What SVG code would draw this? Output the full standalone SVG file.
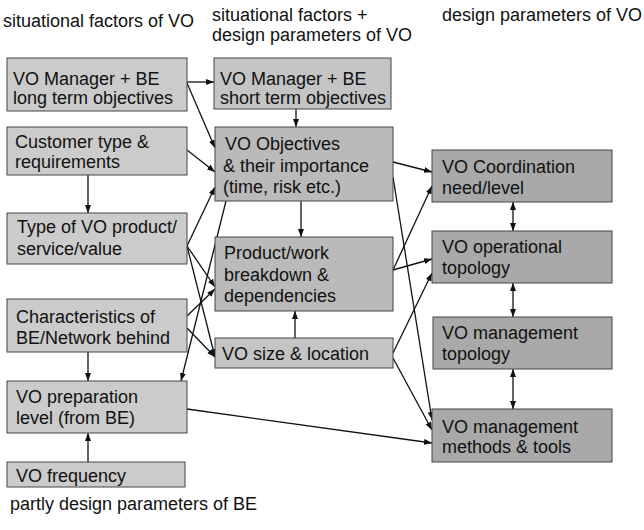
<svg xmlns="http://www.w3.org/2000/svg" width="644" height="530" viewBox="0 0 644 530">
<defs>
<style>
text{font-family:"Liberation Sans",Arial,sans-serif;font-size:18px;fill:#111}
.box{stroke:#444;stroke-width:1}
.l{fill:#cbcbcb}
.m{fill:#c4c4c4}
.d{fill:#bababa}
.r{fill:#a9a9a9}
.e{stroke:#111;stroke-width:1.3;fill:none;marker-end:url(#ah)}
.b{marker-start:url(#ah)}
</style>
<marker id="ah" viewBox="0 0 8 6" refX="8" refY="3" markerWidth="8" markerHeight="6" markerUnits="userSpaceOnUse" orient="auto-start-reverse">
<path d="M0,0L8,3L0,6z" fill="#111"/>
</marker>
</defs>
<rect width="644" height="530" fill="#fff"/>
<g id="headers">
<text x="3" y="27">situational factors of VO</text>
<text x="212" y="21">situational factors +</text>
<text x="212" y="41">design parameters of VO</text>
<text x="442" y="21">design parameters of VO</text>
<text x="10" y="510">partly design parameters of BE</text>
</g>
<g id="connectors">
<path class="e" d="M187,82L214,82"/>
<path class="e" d="M187,83L215,148"/>
<path class="e" d="M296,109L296,127"/>
<path class="e" d="M187,150L215,172"/>
<path class="e" d="M88,175L88,213"/>
<path class="e" d="M187,246L215,187"/>
<path class="e" d="M226,201L181,381"/>
<path class="e" d="M187,246L215,287"/>
<path class="e" d="M187,246L215,357"/>
<path class="e" d="M187,316L215,289"/>
<path class="e" d="M187,328L215,357"/>
<path class="e" d="M301,201L301,237"/>
<path class="e" d="M295,338L295,311"/>
<path class="e" d="M88,352L88,381"/>
<path class="e" d="M88,462L88,433"/>
<path class="e" d="M187,409L432,443"/>
<path class="e" d="M393,162L432,172"/>
<path class="e" d="M393,177L432,420"/>
<path class="e" d="M393,270L432,186"/>
<path class="e" d="M393,270L432,259"/>
<path class="e" d="M393,353L432,273"/>
<path class="e" d="M393,358L432,430"/>
<path class="e b" d="M513,202L513,231"/>
<path class="e b" d="M513,283L513,317"/>
<path class="e b" d="M513,369L513,409"/>
</g>
<g id="b1"><rect class="box l" x="7" y="58" width="180" height="53"/><text x="13" y="85">VO Manager + BE</text><text x="13" y="104">long term objectives</text></g>
<g id="b2"><rect class="box l" x="7" y="127" width="180" height="48"/><text x="15" y="148">Customer type &amp;</text><text x="15" y="168">requirements</text></g>
<g id="b3"><rect class="box l" x="7" y="213" width="180" height="51"/><text x="17" y="233">Type of VO product/</text><text x="17" y="255">service/value</text></g>
<g id="b4"><rect class="box l" x="7" y="299" width="180" height="53"/><text x="16" y="323">Characteristics of</text><text x="16" y="344">BE/Network behind</text></g>
<g id="b5"><rect class="box l" x="7" y="381" width="180" height="52"/><text x="16" y="403">VO preparation</text><text x="16" y="424">level (from BE)</text></g>
<g id="b6"><rect class="box l" x="7" y="462" width="178" height="25"/><text x="16" y="482">VO frequency</text></g>
<g id="m1"><rect class="box m" x="214" y="58" width="177" height="51"/><text x="220" y="85">VO Manager + BE</text><text x="220" y="104">short term objectives</text></g>
<g id="m2"><rect class="box d" x="215" y="127" width="178" height="74"/><text x="225" y="150">VO Objectives</text><text x="223" y="172">&amp; their importance</text><text x="223" y="193">(time, risk etc.)</text></g>
<g id="m3"><rect class="box d" x="215" y="237" width="178" height="74"/><text x="224" y="259">Product/work</text><text x="224" y="281">breakdown &amp;</text><text x="224" y="302">dependencies</text></g>
<g id="m4"><rect class="box m" x="215" y="338" width="178" height="30"/><text x="222" y="360">VO size &amp; location</text></g>
<g id="r1"><rect class="box r" x="432" y="150" width="180" height="52"/><text x="442" y="173">VO Coordination</text><text x="442" y="194">need/level</text></g>
<g id="r2"><rect class="box r" x="432" y="231" width="180" height="52"/><text x="442" y="253">VO operational</text><text x="442" y="274">topology</text></g>
<g id="r3"><rect class="box r" x="433" y="317" width="179" height="52"/><text x="442" y="339">VO management</text><text x="442" y="360">topology</text></g>
<g id="r4"><rect class="box r" x="432" y="409" width="180" height="53"/><text x="442" y="433">VO management</text><text x="442" y="453">methods &amp; tools</text></g>
</svg>
